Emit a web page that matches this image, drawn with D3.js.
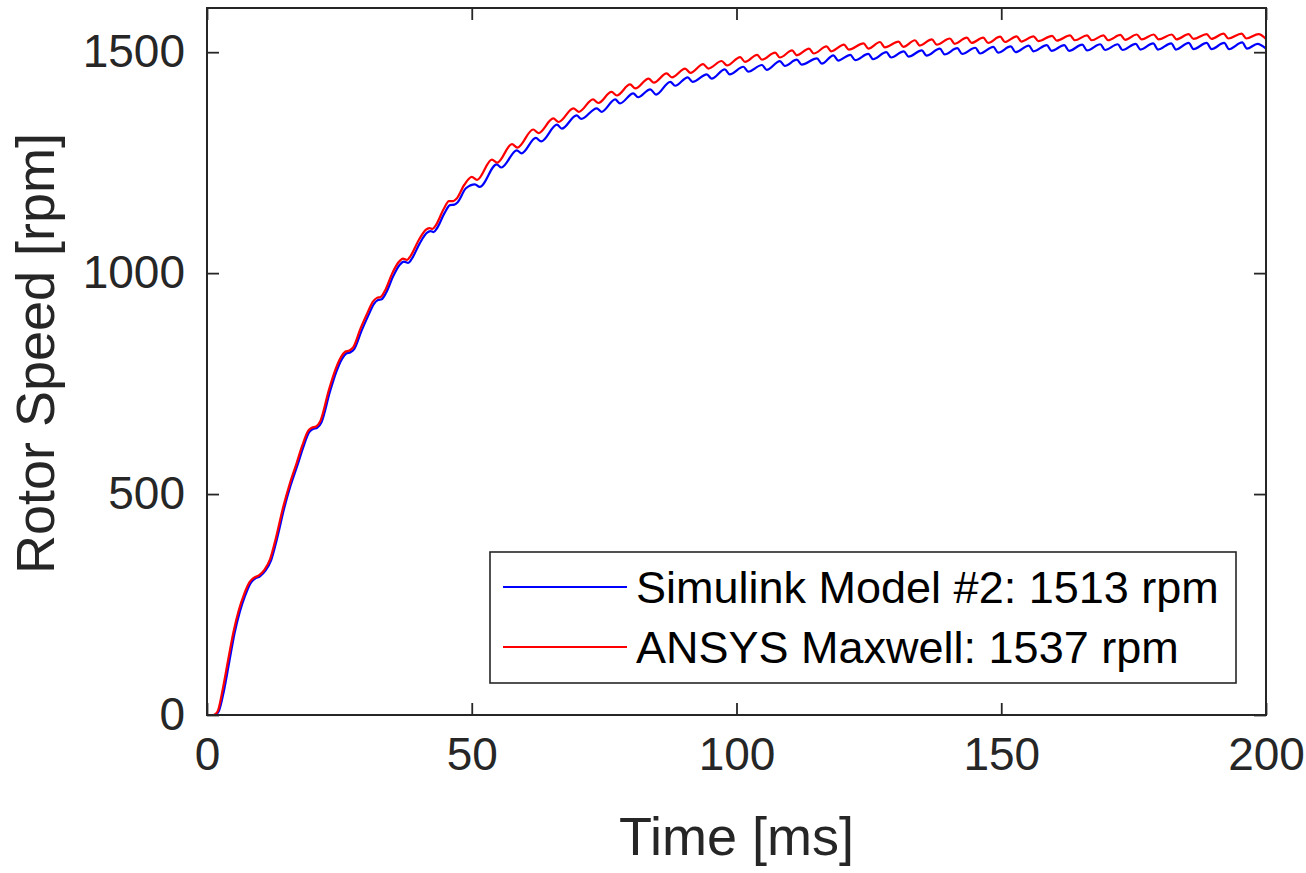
<!DOCTYPE html>
<html>
<head>
<meta charset="utf-8">
<script src="https://cdn.jsdelivr.net/npm/d3@7"></script>
<style>
  body { margin: 0; background: #fff; }
  text { font-family: "Liberation Sans", Arial, sans-serif; }
</style>
</head>
<body>
<div id="chart"></div>
<script>
// Rotor speed start-up (t in ms, speed in rpm)
const simulinkTime = [0, 1.4, 2.2, 3.2, 4.2, 5.2, 6.2, 7.2, 8.2, 9.0, 10.0, 11.0, 12.1, 13.2, 14.6, 15.8, 17.1, 18.2, 19.3, 20.0, 20.8, 21.6,
    23.2, 24.4, 25.5, 26.3, 27.1, 27.8, 29.2, 30.5, 31.5, 32.3, 33.0, 33.8, 35.2, 36.4, 37.2, 38.0, 38.6, 40.2, 41.5, 42.2, 42.8, 43.4,
    44.9, 45.9, 46.7, 47.3, 48.9, 50.6, 51.5, 54.7, 55.6, 58.5, 59.4, 62.1, 63.1, 66.1, 67.0, 69.8, 70.7, 73.6, 74.5, 77.1, 78.0,
    80.5, 81.4, 83.7, 84.8, 87.5, 88.4, 90.8, 91.7, 94.4, 95.3, 97.8, 98.7, 101.3, 102.2, 104.8, 105.7, 108.2, 109.1, 111.4, 112.3,
    115.2, 116.1, 118.3, 119.2, 121.5, 122.4, 124.9, 125.8, 128.3, 129.2, 131.6, 132.5, 135.0, 135.9, 138.4, 139.3, 141.7, 142.6,
    145.1, 146.0, 148.5, 149.4, 151.8, 152.7, 155.2, 156.1, 158.6, 159.5, 161.9, 162.8, 165.3, 166.2, 168.7, 169.6, 172.0, 172.9,
    175.4, 176.3, 178.7, 179.6, 182.1, 183.0, 185.4, 186.3, 188.8, 189.7, 192.1, 193.0, 195.5, 196.4, 198.4, 200];
const simulinkSpeed = [0, 0, 8, 55, 120, 185, 234, 270, 298, 308, 314, 326, 350, 398, 469, 520, 566, 607, 640, 647, 650, 662,
    731, 776, 806, 818, 821, 828, 870, 905, 930, 939, 941, 955, 994, 1019, 1026, 1023, 1031, 1068, 1091, 1095, 1093, 1101,
    1137, 1154, 1155, 1160, 1192, 1201, 1195, 1246, 1239, 1278, 1271, 1306, 1298, 1336, 1327, 1357, 1349, 1373, 1365, 1393, 1384,
    1407, 1398, 1416, 1404, 1433, 1424, 1443, 1433, 1450, 1440, 1461, 1450, 1467, 1456, 1471, 1460, 1480, 1469, 1483, 1472,
    1486, 1474, 1493, 1481, 1494, 1482, 1496, 1484, 1500, 1488, 1502, 1490, 1504, 1492, 1508, 1495, 1509, 1496,
    1510, 1497, 1512, 1499, 1513, 1500, 1515, 1502, 1516, 1503, 1516, 1503, 1517, 1504, 1518, 1505, 1518, 1505,
    1519, 1506, 1520, 1506, 1520, 1506, 1521, 1507, 1521, 1507, 1521, 1507, 1522, 1508, 1519, 1508];

const maxwellTime = [0, 1.2, 2, 3, 4, 5, 6, 7, 8, 8.8, 9.8, 10.8, 11.9, 13, 14.4, 15.6, 16.9, 18, 19.1, 19.8, 20.6, 21.4,
    23, 24.2, 25.3, 26.1, 26.9, 27.6, 29, 30.3, 31.3, 32.1, 32.8, 33.6, 35, 36.2, 37.0, 37.8, 38.4, 40, 41.3, 42.0, 42.6, 43.2,
    44.7, 45.7, 46.5, 47.1, 48.6, 50.0, 51.0, 53.8, 54.8, 57.6, 58.6, 61.6, 62.6, 65.4, 66.4, 69.2, 70.2, 72.9, 73.9, 76.4, 77.4,
    79.9, 80.9, 83.4, 84.4, 86.8, 87.8, 90.3, 91.3, 93.7, 94.7, 97.2, 98.2, 100.7, 101.6, 103.9, 104.8, 107.3, 108.2, 110.5, 111.4,
    113.7, 114.6, 117.0, 117.9, 120.3, 121.2, 124.0, 124.9, 127.1, 128.0, 130.6, 131.5, 133.7, 134.6, 136.9, 137.8, 140.3, 141.2,
    143.5, 144.4, 146.6, 147.5, 149.8, 150.7, 152.9, 153.8, 156.1, 157.0, 159.6, 160.5, 163.0, 163.9, 166.2, 167.1, 169.3, 170.2,
    172.5, 173.4, 175.6, 176.5, 178.8, 179.7, 182.2, 183.1, 185.4, 186.3, 188.8, 189.7, 192.0, 192.9, 195.4, 196.3, 198.6, 200];
const maxwellSpeed = [0, 0, 8, 60, 125, 188, 237, 273, 300, 310, 316, 328, 352, 400, 471, 522, 569, 610, 643, 650, 653, 665,
    735, 780, 810, 822, 825, 832, 875, 910, 935, 944, 946, 960, 1000, 1025, 1033, 1030, 1038, 1075, 1098, 1102, 1100, 1108,
    1145, 1163, 1163, 1168, 1200, 1218, 1211, 1257, 1250, 1292, 1284, 1325, 1317, 1350, 1342, 1373, 1365, 1393, 1385, 1410, 1402,
    1427, 1418, 1440, 1431, 1452, 1443, 1463, 1453, 1473, 1463, 1480, 1470, 1489, 1478, 1494, 1483, 1499, 1488, 1504, 1493,
    1508, 1497, 1513, 1502, 1517, 1506, 1520, 1508, 1523, 1511, 1524, 1512, 1527, 1515, 1529, 1517, 1531, 1519,
    1533, 1521, 1533, 1521, 1535, 1523, 1536, 1524, 1536, 1525, 1537, 1526, 1538, 1527, 1538, 1527, 1538, 1527,
    1539, 1528, 1540, 1529, 1540, 1529, 1540, 1529, 1541, 1530, 1541, 1530, 1542, 1531, 1542, 1531, 1541, 1530];

const xTicks = [0, 50, 100, 150, 200];
const yTicks = [0, 500, 1000, 1500];
const legendLabels = ["Simulink Model #2: 1513 rpm", "ANSYS Maxwell: 1537 rpm"];

const W = 1306, H = 873;
const margin = { top: 8, right: 40, bottom: 158, left: 207 };
const width = W - margin.left - margin.right;   // 1059
const height = H - margin.top - margin.bottom;  // 707
const axisColor = "#262626";

const svg = d3.select("#chart").append("svg")
    .attr("width", W)
    .attr("height", H);

const g = svg.append("g")
    .attr("transform", `translate(${margin.left},${margin.top})`);

const x = d3.scaleLinear().domain([0, 200]).range([0, width]);
const y = d3.scaleLinear().domain([0, 1600]).range([height, 0]);

g.append("clipPath").attr("id", "plot-clip")
    .append("rect").attr("width", width).attr("height", height);

const series = [
    { name: legendLabels[0], color: "#0000ff", pts: simulinkTime.map((t, i) => [t, simulinkSpeed[i]]) },
    { name: legendLabels[1], color: "#ff0000", pts: maxwellTime.map((t, i) => [t, maxwellSpeed[i]]) }
];

const line = d3.line()
    .x(d => x(d[0]))
    .y(d => y(d[1]))
    .curve(d3.curveMonotoneX);

g.append("g").attr("clip-path", "url(#plot-clip)")
    .selectAll("path")
    .data(series)
    .join("path")
    .attr("fill", "none")
    .attr("stroke", d => d.color)
    .attr("stroke-width", 2.2)
    .attr("stroke-linejoin", "round")
    .attr("d", d => line(d.pts));

// axes, MATLAB style: ticks inside, box on
function styleAxis(sel) {
    sel.selectAll(".domain").remove();
    sel.selectAll(".tick line").attr("stroke", axisColor).attr("stroke-width", 1.8);
    sel.selectAll(".tick text")
        .attr("fill", axisColor)
        .style("font-family", "'Liberation Sans', Arial, sans-serif")
        .style("font-size", "46px");
}

g.append("g")
    .attr("transform", `translate(0,${height})`)
    .call(d3.axisBottom(x).tickValues(xTicks).tickFormat(d3.format("d")).tickSize(-12).tickPadding(22))
    .call(styleAxis);

g.append("g")
    .call(d3.axisLeft(y).tickValues(yTicks).tickFormat(d3.format("d")).tickSize(-12).tickPadding(22))
    .call(styleAxis);

g.append("g")
    .call(d3.axisTop(x).tickValues(xTicks).tickSize(-12).tickFormat(""))
    .call(styleAxis);

g.append("g")
    .attr("transform", `translate(${width},0)`)
    .call(d3.axisRight(y).tickValues(yTicks).tickSize(-12).tickFormat(""))
    .call(styleAxis);

g.append("rect")
    .attr("width", width)
    .attr("height", height)
    .attr("fill", "none")
    .attr("stroke", axisColor)
    .attr("stroke-width", 2);

// axis titles
svg.append("text")
    .attr("x", margin.left + width / 2)
    .attr("y", 855)
    .attr("text-anchor", "middle")
    .attr("fill", axisColor)
    .style("font-size", "54px")
    .text("Time [ms]");

svg.append("text")
    .attr("transform", `translate(54,${margin.top + y(800) - 8}) rotate(-90)`)
    .attr("text-anchor", "middle")
    .attr("fill", axisColor)
    .style("font-size", "54px")
    .text("Rotor Speed [rpm]");

// legend
const legend = svg.append("g").attr("transform", "translate(490,552)");
legend.append("rect")
    .attr("width", 746)
    .attr("height", 131)
    .attr("fill", "#fff")
    .attr("stroke", axisColor)
    .attr("stroke-width", 1.6);

const item = legend.selectAll("g.item")
    .data(series)
    .join("g")
    .attr("class", "item")
    .attr("transform", (d, i) => `translate(0,${35 + i * 60})`);

item.append("line")
    .attr("x1", 13).attr("x2", 137)
    .attr("stroke", d => d.color)
    .attr("stroke-width", 2.2);

item.append("text")
    .attr("x", 146)
    .attr("y", 16)
    .attr("fill", "#000")
    .style("font-size", "45px")
    .text(d => d.name);
</script>
</body>
</html>
